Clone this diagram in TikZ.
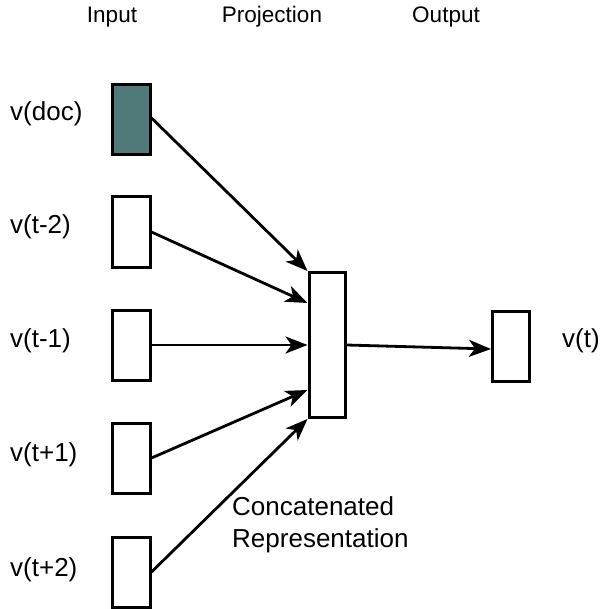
\documentclass[tikz,border=0pt]{standalone}
\usepackage{fontspec}
\setmainfont{Liberation Sans}
\usetikzlibrary{arrows.meta}
\definecolor{docfill}{RGB}{80,121,121}
\tikzset{
  vec/.style={draw=black, line width=3pt, fill=white, inner sep=0pt, minimum width=38pt, minimum height=70pt},
  link/.style={line width=2.8pt, -{Stealth[length=22pt,width=17pt,inset=6pt]}},
  lbl/.style={font=\fontsize{26}{30}\selectfont, inner sep=0pt},
  head/.style={font=\fontsize{22.5}{26}\selectfont, inner sep=0pt}
}
\begin{document}
\begin{tikzpicture}[x=1pt,y=-1pt]
\useasboundingbox (0,0) rectangle (604,609);
% column headings
\node[head] (hin) at (112,17) {Input};
\node[head] (hproj) at (272,17) {Projection};
\node[head] (hout) at (446,17) {Output};
% input word vectors
\node[vec, fill=docfill] (doc) at (131,120) {};
\node[vec] (tm2) at (131,232) {};
\node[vec] (tm1) at (131,345) {};
\node[vec] (tp1) at (131,458) {};
\node[vec] (tp2) at (131,572) {};
% projection and output
\node[vec, minimum height=145pt, minimum width=36pt] (proj) at (327,345) {};
\node[vec, minimum width=37pt] (out) at (511,346) {};
% labels
\node[lbl, anchor=west] (ldoc) at (10,114) {v(doc)};
\node[lbl, anchor=west] (ltm2) at (10,227) {v(t-2)};
\node[lbl, anchor=west] (ltm1) at (10,341) {v(t-1)};
\node[lbl, anchor=west] (ltp1) at (10,455) {v(t+1)};
\node[lbl, anchor=west] (ltp2) at (10,570) {v(t+2)};
\node[lbl, anchor=west] (lout) at (562,341) {v(t)};
\node[lbl, anchor=north west, align=left] (lcat) at (232,496) {Concatenated\\[2pt]Representation};
% connections
\draw[link] ([yshift=2pt]doc.east) -- (proj.north west);
\draw[link] (tm2.east) -- ([yshift=42pt]proj.west);
\draw[link] (tm1.east) -- (proj.west);
\draw[link] (tp1.east) -- ([yshift=-45pt]proj.west);
\draw[link] (tp2.east) -- (proj.south west);
\draw[link] (proj.east) -- ([yshift=-3pt]out.west);
\end{tikzpicture}
\end{document}
